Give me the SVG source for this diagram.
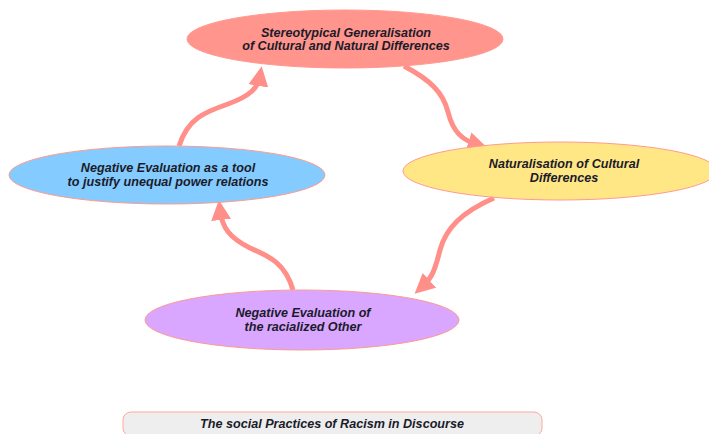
<svg xmlns="http://www.w3.org/2000/svg" width="709" height="434" viewBox="0 0 709 434">
<defs>
<marker id="ah" markerWidth="4" markerHeight="4" refX="2" refY="2" orient="auto" markerUnits="strokeWidth">
<path d="M0,0 L4,2 L0,4 z" fill="#ff8f88"/>
</marker>
<style>
.n{stroke:#ff9a90;stroke-width:1}
.t{font-family:"Liberation Sans",Arial,sans-serif;font-size:12.6px;font-weight:bold;font-style:italic;fill:#1b1b2a;text-anchor:middle}
.c{fill:none;stroke:#ff8f88;stroke-width:5;stroke-linecap:butt}
</style>
</defs>
<rect width="709" height="434" fill="#ffffff"/>
<g id="connectors">
<path class="c" d="M179,146 C188,118 205,112 228,104 C250,96 258,88 260,76" marker-end="url(#ah)"/>
<path class="c" d="M404,66 C430,80 443,92 448,112 C453,132 462,140 478,145" marker-end="url(#ah)"/>
<path class="c" d="M494,198 C462,212 446,228 440,250 C435,270 432,278 422,287" marker-end="url(#ah)"/>
<path class="c" d="M293,290 C285,262 268,256 250,248 C230,238 222,228 220,210" marker-end="url(#ah)"/>
</g>
<g id="n1">
<ellipse class="n" cx="345" cy="39" rx="158" ry="29" fill="#ff958d"/>
<text class="t" x="346" y="37">Stereotypical Generalisation</text>
<text class="t" x="346" y="50">of Cultural and Natural Differences</text>
</g>
<g id="n2">
<ellipse class="n" cx="560" cy="171" rx="157" ry="29" fill="#ffe785"/>
<text class="t" x="564" y="168">Naturalisation of Cultural</text>
<text class="t" x="564" y="182">Differences</text>
</g>
<g id="n3">
<ellipse class="n" cx="302" cy="320" rx="157" ry="30" fill="#d9a7ff"/>
<text class="t" x="303" y="317">Negative Evaluation of</text>
<text class="t" x="303" y="331">the racialized Other</text>
</g>
<g id="n4">
<ellipse class="n" cx="167" cy="175" rx="158" ry="29" fill="#84cbff"/>
<text class="t" x="168" y="172">Negative Evaluation as a tool</text>
<text class="t" x="168" y="186">to justify unequal power relations</text>
</g>
<g id="caption">
<rect x="123" y="412" width="419" height="24" rx="8" fill="#eeeeee" stroke="#ffa9a0" stroke-width="1"/>
<text class="t" x="332" y="428">The social Practices of Racism in Discourse</text>
</g>
</svg>
